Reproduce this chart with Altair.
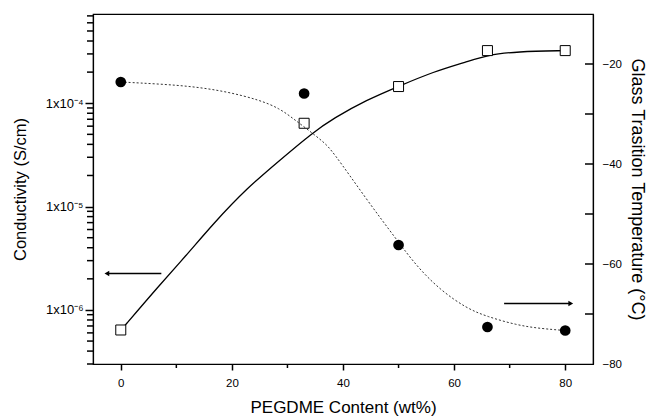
import altair as alt
import pandas as pd

# Measured points
x_pts = [0, 33, 50, 66, 80]
cond_pts = [6.4e-7, 6.4e-5, 1.45e-4, 3.23e-4, 3.23e-4]
tg_pts = [-23.6, -25.9, -56.2, -72.6, -73.3]

# Fitted curve (conductivity, solid)
cond_curve_x = [0, 7, 11.6, 16.7, 22.7, 28.7, 34.4, 38.3, 44.3, 49.9, 56.3, 62.3, 66, 71.3, 80]
cond_curve_y = [6.35e-7, 1.75e-6, 3.28e-6, 6.9e-6, 1.51e-5, 2.83e-5, 5.13e-5, 7.16e-5,
                1.08e-4, 1.45e-4, 2.02e-4, 2.52e-4, 2.93e-4, 3.16e-4, 3.23e-4]

# Fitted curve (Tg, dotted)
tg_curve_x = [0, 7, 13, 19, 25, 28.6, 31, 33.4, 36.4, 38, 44.3, 49.7, 53.3, 57.5, 62.3, 65.9, 71.2, 75.4, 80]
tg_curve_y = [-23.6, -24.0, -24.5, -25.5, -27.2, -28.9, -30.9, -32.9, -35.5, -37.2, -47.2,
              -55.2, -60.5, -65.2, -68.9, -70.5, -72.2, -72.9, -73.3]

# Arrows (x start, x end, tg level, head at)
arrow_x1 = [-2.5, 69.0]
arrow_x2 = [7.3, 81.0]
arrow_y = [-61.9, -67.9]
arrow_head_x = [-2.5, 81.0]
arrow_shape = ["triangle-left", "triangle-right"]

x_major = [0, 20, 40, 60, 80]
x_minor = [10, 30, 50, 70]
cond_major = [1e-6, 1e-5, 1e-4]
cond_minor = [k * 10.0 ** e for e in (-7, -6, -5, -4) for k in range(2, 10)]
cond_minor = [v for v in cond_minor if 3e-7 <= v <= 7.3e-4]
tg_labels = [-20, -40, -60, -80]
tg_inner = [-20, -30, -40, -50, -60, -70]

pts = pd.DataFrame({"x": x_pts, "cond": cond_pts, "tg": tg_pts})
ccurve = pd.DataFrame({"x": cond_curve_x, "cond": cond_curve_y})
tcurve = pd.DataFrame({"x": tg_curve_x, "tg": tg_curve_y})
arrows = pd.DataFrame({"x1": arrow_x1, "x2": arrow_x2, "tg": arrow_y,
                       "hx": arrow_head_x, "shape": arrow_shape})
tdf = pd.DataFrame({"tg": tg_inner})
cmin = pd.DataFrame({"cond": cond_minor})
xmin = pd.DataFrame({"x": x_minor})

FONT = "Liberation Sans"
common = dict(domainColor="black", domainWidth=1.2, tickColor="black", tickWidth=1.5,
              labelColor="black", titleColor="black", labelFont=FONT, titleFont=FONT,
              titleFontWeight="normal", grid=False, labelFlush=False)

xscale = alt.Scale(domain=[-5, 85], nice=False, zero=False)
xaxis = alt.Axis(
    title="PEGDME Content (wt%)", values=x_major, tickSize=6,
    labelPadding=7, labelFontSize=11.5, titleFontSize=17, titlePadding=11, **common,
)
X = alt.X("x:Q", scale=xscale, axis=xaxis)

cscale = alt.Scale(type="log", domain=[3e-7, 7.3e-4], nice=False)
caxis = alt.Axis(
    orient="left", title="Conductivity (S/cm)", values=cond_major,
    labelExpr=("'1x10\u207b' + (round(log(datum.value)/LN10) == -4 ? '\u2074' : "
               "round(log(datum.value)/LN10) == -5 ? '\u2075' : '\u2076')"),
    tickSize=8, labelOverlap=False, labelPadding=2, labelFontSize=13, titleFontSize=16.5,
    titlePadding=17, **common,
)

tscale = alt.Scale(domain=[-80, -10], nice=False, zero=False)
taxis = alt.Axis(
    orient="right", title="Glass Trasition Temperature (\u00b0C)",
    values=tg_labels, ticks=False, labelPadding=9,
    labelFontSize=11.5, titleFontSize=18, titlePadding=6, **common,
)

cond_line = alt.Chart(ccurve).mark_line(color="black", strokeWidth=1.3, interpolate="basis").encode(
    x=X, y=alt.Y("cond:Q", scale=cscale, axis=caxis))
cond_pt = alt.Chart(pts).mark_point(shape="square", size=100, filled=False, fill="white",
                                    color="black", strokeWidth=1, opacity=1).encode(
    x=X, y=alt.Y("cond:Q", scale=cscale, axis=caxis))
cond_minor_ticks = alt.Chart(cmin).mark_rule(color="black", strokeWidth=1.5).encode(
    x=alt.value(-6), x2=alt.value(0), y=alt.Y("cond:Q", scale=cscale, axis=caxis))
x_minor_ticks = alt.Chart(xmin).mark_rule(color="black", strokeWidth=1.5).encode(
    x=X, y=alt.value(350), y2=alt.value(354))
left = alt.layer(cond_line, cond_pt, cond_minor_ticks, x_minor_ticks)

tg_line = alt.Chart(tcurve).mark_line(color="#333333", strokeWidth=1, strokeDash=[2, 2],
                                      interpolate="basis").encode(
    x=X, y=alt.Y("tg:Q", scale=tscale, axis=taxis))
tg_pt = alt.Chart(pts).mark_circle(size=115, color="black", opacity=1).encode(
    x=X, y=alt.Y("tg:Q", scale=tscale, axis=taxis))
arrow_shaft = alt.Chart(arrows).mark_rule(color="black", strokeWidth=1.3).encode(
    x=alt.X("x1:Q", scale=xscale, axis=xaxis), x2="x2:Q",
    y=alt.Y("tg:Q", scale=tscale, axis=taxis))
arrow_head = alt.Chart(arrows).mark_point(filled=True, color="black", size=30, opacity=1).encode(
    x=alt.X("hx:Q", scale=xscale, axis=xaxis),
    y=alt.Y("tg:Q", scale=tscale, axis=taxis),
    shape=alt.Shape("shape:N", scale=None))
inner_ticks = alt.Chart(tdf).mark_rule(color="black", strokeWidth=1.5).encode(
    x=alt.value(492), x2=alt.value(500),
    y=alt.Y("tg:Q", scale=tscale, axis=taxis))
right = alt.layer(tg_line, tg_pt, arrow_shaft, arrow_head, inner_ticks)

chart = alt.layer(left, right).resolve_scale(y="independent").properties(
    width=500, height=350,
    autosize=alt.AutoSizeParams(type="none"),
    padding={"left": 93, "top": 14, "right": 62, "bottom": 54},
).configure_view(stroke="black", strokeWidth=1.2)

chart.save("out.html", embed_options={"renderer": "svg", "actions": False})
